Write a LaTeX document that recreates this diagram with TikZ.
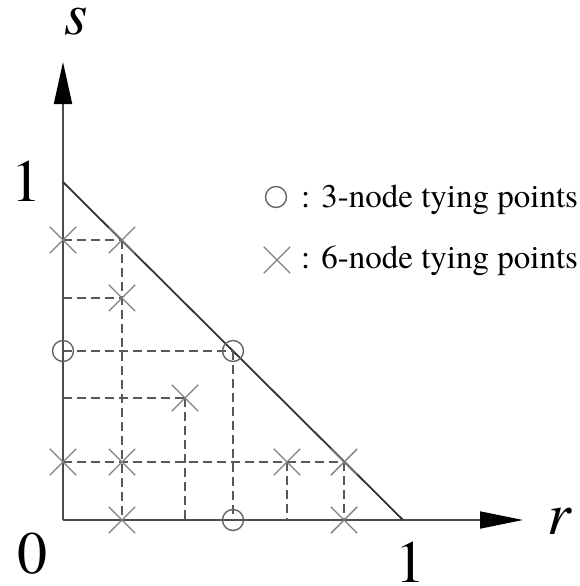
\documentclass[tikz,border=0pt]{standalone}
\usepackage{fontspec}
\setmainfont{texgyretermes}[Extension=.otf,UprightFont=*-regular,ItalicFont=*-italic,BoldFont=*-bold,BoldItalicFont=*-bolditalic]
\usetikzlibrary{arrows.meta,shapes.misc}
\begin{document}
\begin{tikzpicture}[x=1pt,y=-1pt,
  axisline/.style={draw=black!70,line width=1.8pt},
  hypline/.style={draw=black!80,line width=1.8pt},
  tie/.style={draw=black!65,line width=1.6pt,dash pattern=on 9pt off 5pt},
  sixnode/.style={cross out,draw=black!50,line width=1.4pt,minimum size=25pt,inner sep=0pt},
  threenode/.style={circle,draw=black!60,line width=1.4pt,minimum size=21pt,inner sep=0pt},
  biglabel/.style={font=\fontsize{60}{60}\selectfont,inner sep=0pt},
  legendtext/.style={font=\fontsize{33}{33}\selectfont,inner sep=0pt,anchor=base west}]
\useasboundingbox[fill=white] (0,0) rectangle (579,586);

% axes
\coordinate (O) at (63,520);
\coordinate (stip) at (63,62);
\coordinate (rtip) at (523,520);
\coordinate (s1) at (63,182);
\coordinate (r1) at (403,520);
\draw[axisline,-{Triangle[length=42pt,width=18pt,color=black]}] (O) -- (stip);
\draw[axisline,-{Triangle[length=43pt,width=17pt,color=black]}] (O) -- (rtip);
\draw[hypline] (s1) -- (r1);

% tying point positions
\coordinate (a1) at (63,240);
\coordinate (a2) at (122,240);
\coordinate (a3) at (122,298);
\coordinate (a4) at (185,398);
\coordinate (a5) at (63,462);
\coordinate (a6) at (122,462);
\coordinate (a7) at (287,462);
\coordinate (a8) at (344,462);
\coordinate (a9) at (122,520);
\coordinate (a10) at (344,520);
\coordinate (b1) at (63,351);
\coordinate (b2) at (233,351);
\coordinate (b3) at (233,520);
\coordinate (e1) at (63,298);
\coordinate (e2) at (63,398);
\coordinate (e3) at (185,520);
\coordinate (e4) at (287,520);

% dashed tying lines
\draw[tie] (a1) -- (a2);
\draw[tie] (a2) -- (a9);
\draw[tie] (e1) -- (a3);
\draw[tie] (b1) -- (b2);
\draw[tie] (b2) -- (b3);
\draw[tie] (e2) -- (a4);
\draw[tie] (a4) -- (e3);
\draw[tie] (a5) -- (a8);
\draw[tie] (a7) -- (e4);
\draw[tie] (a8) -- (a10);

% markers
\foreach \p in {a1,a2,a3,a4,a5,a6,a7,a8,a9,a10}
  \node[sixnode] (m\p) at (\p) {};
\foreach \p in {b1,b2,b3}
  \node[threenode] (m\p) at (\p) {};

% axis labels
\node[biglabel] (slab) at (76,22) {\textit{s}};
\node[biglabel] (rlab) at (560,521) {\textit{r}};
\node[biglabel] (one s) at (26,181) {1};
\node[biglabel] (zero) at (32,554) {0};
\node[biglabel] (one r) at (410,562) {1};

% legend
\node[threenode] (legc) at (276,197) {};
\node[sixnode] (legx) at (277,260) {};
\node[legendtext] (legt1) at (301,207) {: 3-node tying points};
\node[legendtext] (legt2) at (301,268) {: 6-node tying points};
\end{tikzpicture}
\end{document}
